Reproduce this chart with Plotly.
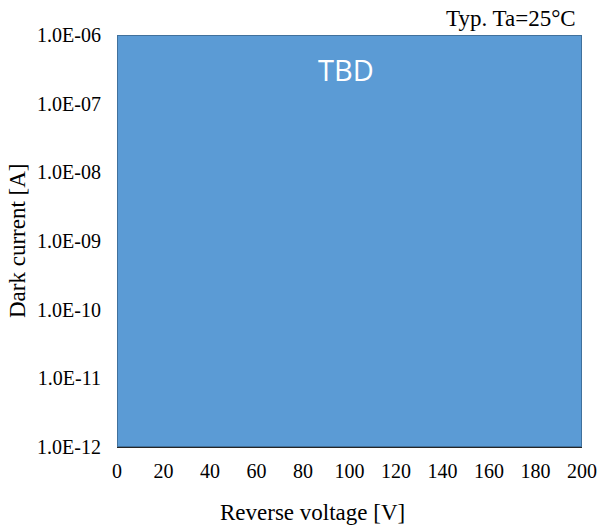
import plotly.graph_objects as go

# Measurement range (placeholder block until data is available)
voltage_range = [0, 200]              # Reverse voltage [V]
current_range = [1e-12, 1e-6]         # Dark current [A]
x_ticks = [0, 20, 40, 60, 80, 100, 120, 140, 160, 180, 200]
y_ticks = [1e-12, 1e-11, 1e-10, 1e-9, 1e-8, 1e-7, 1e-6]
y_tick_labels = ["1.0E-12", "1.0E-11", "1.0E-10", "1.0E-09", "1.0E-08", "1.0E-07", "1.0E-06"]

serif = "Liberation Serif, Times New Roman, serif"

x0, x1 = voltage_range
y0, y1 = current_range

fig = go.Figure()
fig.add_trace(go.Scatter(
    x=[x0, x0, x1, x1, x0],
    y=[y0, y1, y1, y0, y0],
    mode="lines",
    fill="toself",
    fillcolor="#5B9BD5",
    line=dict(color="#41719C", width=2),
    hoverinfo="skip",
    showlegend=False,
))

# Placeholder label inside the block
fig.add_annotation(
    x=0.492, y=-6.5, xref="paper", yref="y",
    text="TBD", showarrow=False,
    font=dict(family="Open Sans, Calibri, sans-serif", size=29, color="white"),
)
# Measurement condition
fig.add_annotation(
    x=0.991, y=1.0, xref="paper", yref="paper",
    xanchor="right", yanchor="middle", yshift=17,
    text="Typ. Ta=25\u00b0C", showarrow=False,
    font=dict(family=serif, size=23, color="black"),
)
# Axis titles
fig.add_annotation(
    x=0.4215, y=0.0, xref="paper", yref="paper",
    xanchor="center", yanchor="middle", yshift=-65,
    text="Reverse voltage [V]", showarrow=False,
    font=dict(family=serif, size=23, color="black"),
)
fig.add_annotation(
    x=-0.215, y=0.5, xref="paper", yref="paper",
    xanchor="center", yanchor="middle", textangle=-90,
    text="Dark current [A]", showarrow=False,
    font=dict(family=serif, size=23, color="black"),
)

fig.update_layout(
    width=599, height=529,
    margin=dict(l=117, r=17, t=35, b=82),
    paper_bgcolor="white", plot_bgcolor="white",
    font=dict(family=serif, size=20, color="black"),
    xaxis=dict(
        range=[x0, x1], tickvals=x_ticks, showgrid=False, zeroline=False,
        showline=True, linecolor="#262626", linewidth=1,
        ticks="", ticklabelstandoff=6, automargin=False,
        tickfont=dict(size=20),
    ),
    yaxis=dict(
        type="log", range=[-12, -6], tickvals=y_ticks, ticktext=y_tick_labels,
        showgrid=False, zeroline=False, showline=False, ticks="",
        ticklabelstandoff=15, automargin=False,
        tickfont=dict(size=20),
    ),
)

fig.write_html("out.html")
